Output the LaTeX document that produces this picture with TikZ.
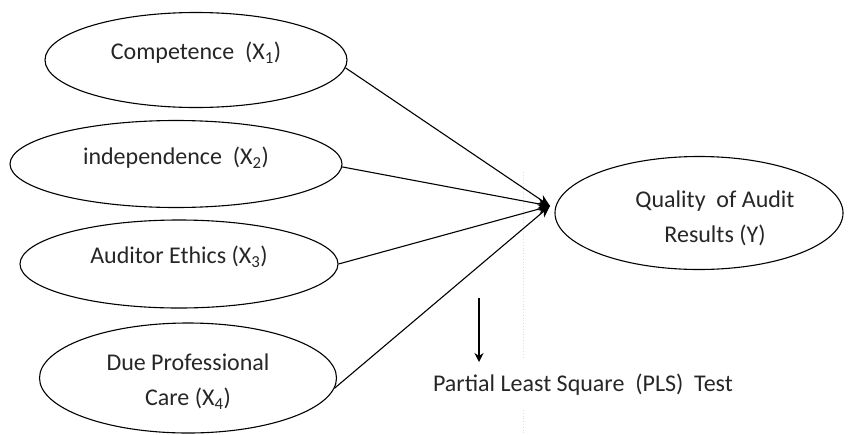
\documentclass[tikz,border=0pt]{standalone}
\usepackage{fontspec}
\setmainfont{Carlito}
\usetikzlibrary{shapes.geometric,arrows.meta}
\tikzset{
  construct/.style={draw, ellipse, line width=1.1pt, inner sep=0pt},
  lbl/.style={font=\fontsize{24}{35}\selectfont, align=center, inner sep=0pt, text=black!85},
  path/.style={line width=1.1pt, -{Stealth[length=12pt,width=10pt]}},
}
\begin{document}
\begin{tikzpicture}[x=1pt,y=-1pt]
\useasboundingbox (0,0) rectangle (866,434);
\draw[gray!25, dotted, line width=0.8pt] (523,172) -- (523,357);
\draw[gray!25, dotted, line width=0.8pt] (523,410) -- (523,434);
\node[construct, minimum width=302pt, minimum height=95pt] (e1) at (196,60) {};
\node[construct, minimum width=332pt, minimum height=87pt] (e2) at (176,164) {};
\node[construct, minimum width=318pt, minimum height=88pt] (e3) at (179,264) {};
\node[construct, minimum width=297pt, minimum height=110pt] (e4) at (188,378) {};
\node[construct, minimum width=288pt, minimum height=113pt] (ey) at (699,213) {};
\node[lbl] (t1) at (196,53) {Competence\ \ (X\textsubscript{1})};
\node[lbl] (t2) at (176,158) {independence\ \ (X\textsubscript{2})};
\node[lbl] (t3) at (179,257) {Auditor\ Ethics (X\textsubscript{3})};
\node[lbl] (t4) at (188,382) {Due Professional\\Care (X\textsubscript{4})};
\node[lbl] (ty) at (715,218) {Quality\ \ of Audit\\Results (Y)};
\coordinate (tip) at (550,206);
\draw[path] (e1.-3) -- (tip);
\draw[path] (e2.-1) -- (tip);
\draw[path] (e3.0) -- (tip);
\draw[path] (e4.-4) -- (tip);
\coordinate (pa) at (479,298);
\coordinate (pb) at (479,362);
\draw[line width=1.1pt, -{Stealth[length=9pt,width=9pt]}] (pa) -- (pb);
\node[lbl] (pls) at (583,385) {Partial Least Square\ \ (PLS)\ \ Test};
\end{tikzpicture}
\end{document}
